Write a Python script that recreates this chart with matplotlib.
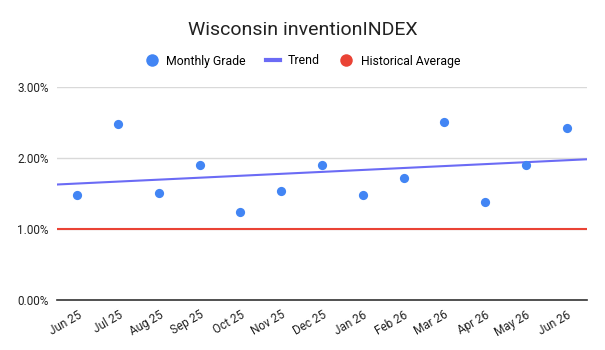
import matplotlib
matplotlib.use("Agg")
import matplotlib.pyplot as plt
import numpy as np
from matplotlib.lines import Line2D
from matplotlib.ticker import FuncFormatter

plt.rcParams['font.family'] = ['Roboto', 'DejaVu Sans']

months = ["Jun 25", "Jul 25", "Aug 25", "Sep 25", "Oct 25", "Nov 25", "Dec 25",
          "Jan 26", "Feb 26", "Mar 26", "Apr 26", "May 26", "Jun 26"]
monthly_grade = [1.48, 2.48, 1.51, 1.91, 1.24, 1.54, 1.91, 1.48, 1.72, 2.51, 1.38, 1.90, 2.43]
historical_average = 1.00
y_ticks = [0, 1, 2, 3]

BLUE = "#4285F4"
TREND = "#6B6BF5"
RED = "#EA4335"

fig = plt.figure(figsize=(6.05, 3.5), dpi=100)
ax = fig.add_axes([57/605, 1 - 300/350, (587 - 57)/605, (300 - 87.3)/350])

x = np.arange(len(months))
y = np.array(monthly_grade)

ax.set_xlim(-0.5, len(months) - 0.5)
ax.set_ylim(0, 3)

# trend (least squares over the data)
slope, intercept = np.polyfit(x, y, 1)
xt = np.array([-0.5, len(months) - 0.5])
ax.plot(xt, slope * xt + intercept, color=TREND, lw=1.5, zorder=3)

ax.axhline(historical_average, color=RED, lw=1.5, zorder=2)

ax.scatter(x, y, s=44, color=BLUE, zorder=4, linewidths=0)

ax.set_yticks(y_ticks)
ax.yaxis.set_major_formatter(FuncFormatter(lambda v, p: f"{v:.2f}%"))
ax.grid(axis='y', color="#d9d9d9", lw=1)
ax.set_axisbelow(True)
for s in ['top', 'right', 'left']:
    ax.spines[s].set_visible(False)
ax.spines['bottom'].set_color("#333333")
ax.spines['bottom'].set_linewidth(1.2)
ax.tick_params(axis='both', length=0, labelsize=8.5, colors="#222222")
ax.tick_params(axis='y', pad=6)
ax.set_xticks(x)
ax.set_xticklabels(months, rotation=30, ha='right', rotation_mode='anchor')
ax.tick_params(axis='x', pad=6)

fig.text(0.5, 1 - 30/350, "Wisconsin inventionINDEX", ha='center', va='center',
         fontsize=14, color="#222222")

handles = [
    Line2D([], [], marker='o', linestyle='none', markersize=9, color=BLUE, markeredgewidth=0),
    Line2D([], [], color=TREND, lw=3),
    Line2D([], [], marker='o', linestyle='none', markersize=9, color=RED, markeredgewidth=0),
]
fig.legend(handles, ["Monthly Grade", "Trend", "Historical Average"], loc='center',
           bbox_to_anchor=(0.5, 1 - 61/350), ncol=3, frameon=False, fontsize=8.8,
           handlelength=1.2, handletextpad=0.6, columnspacing=1.6)

fig.savefig("out.png", dpi=100)
